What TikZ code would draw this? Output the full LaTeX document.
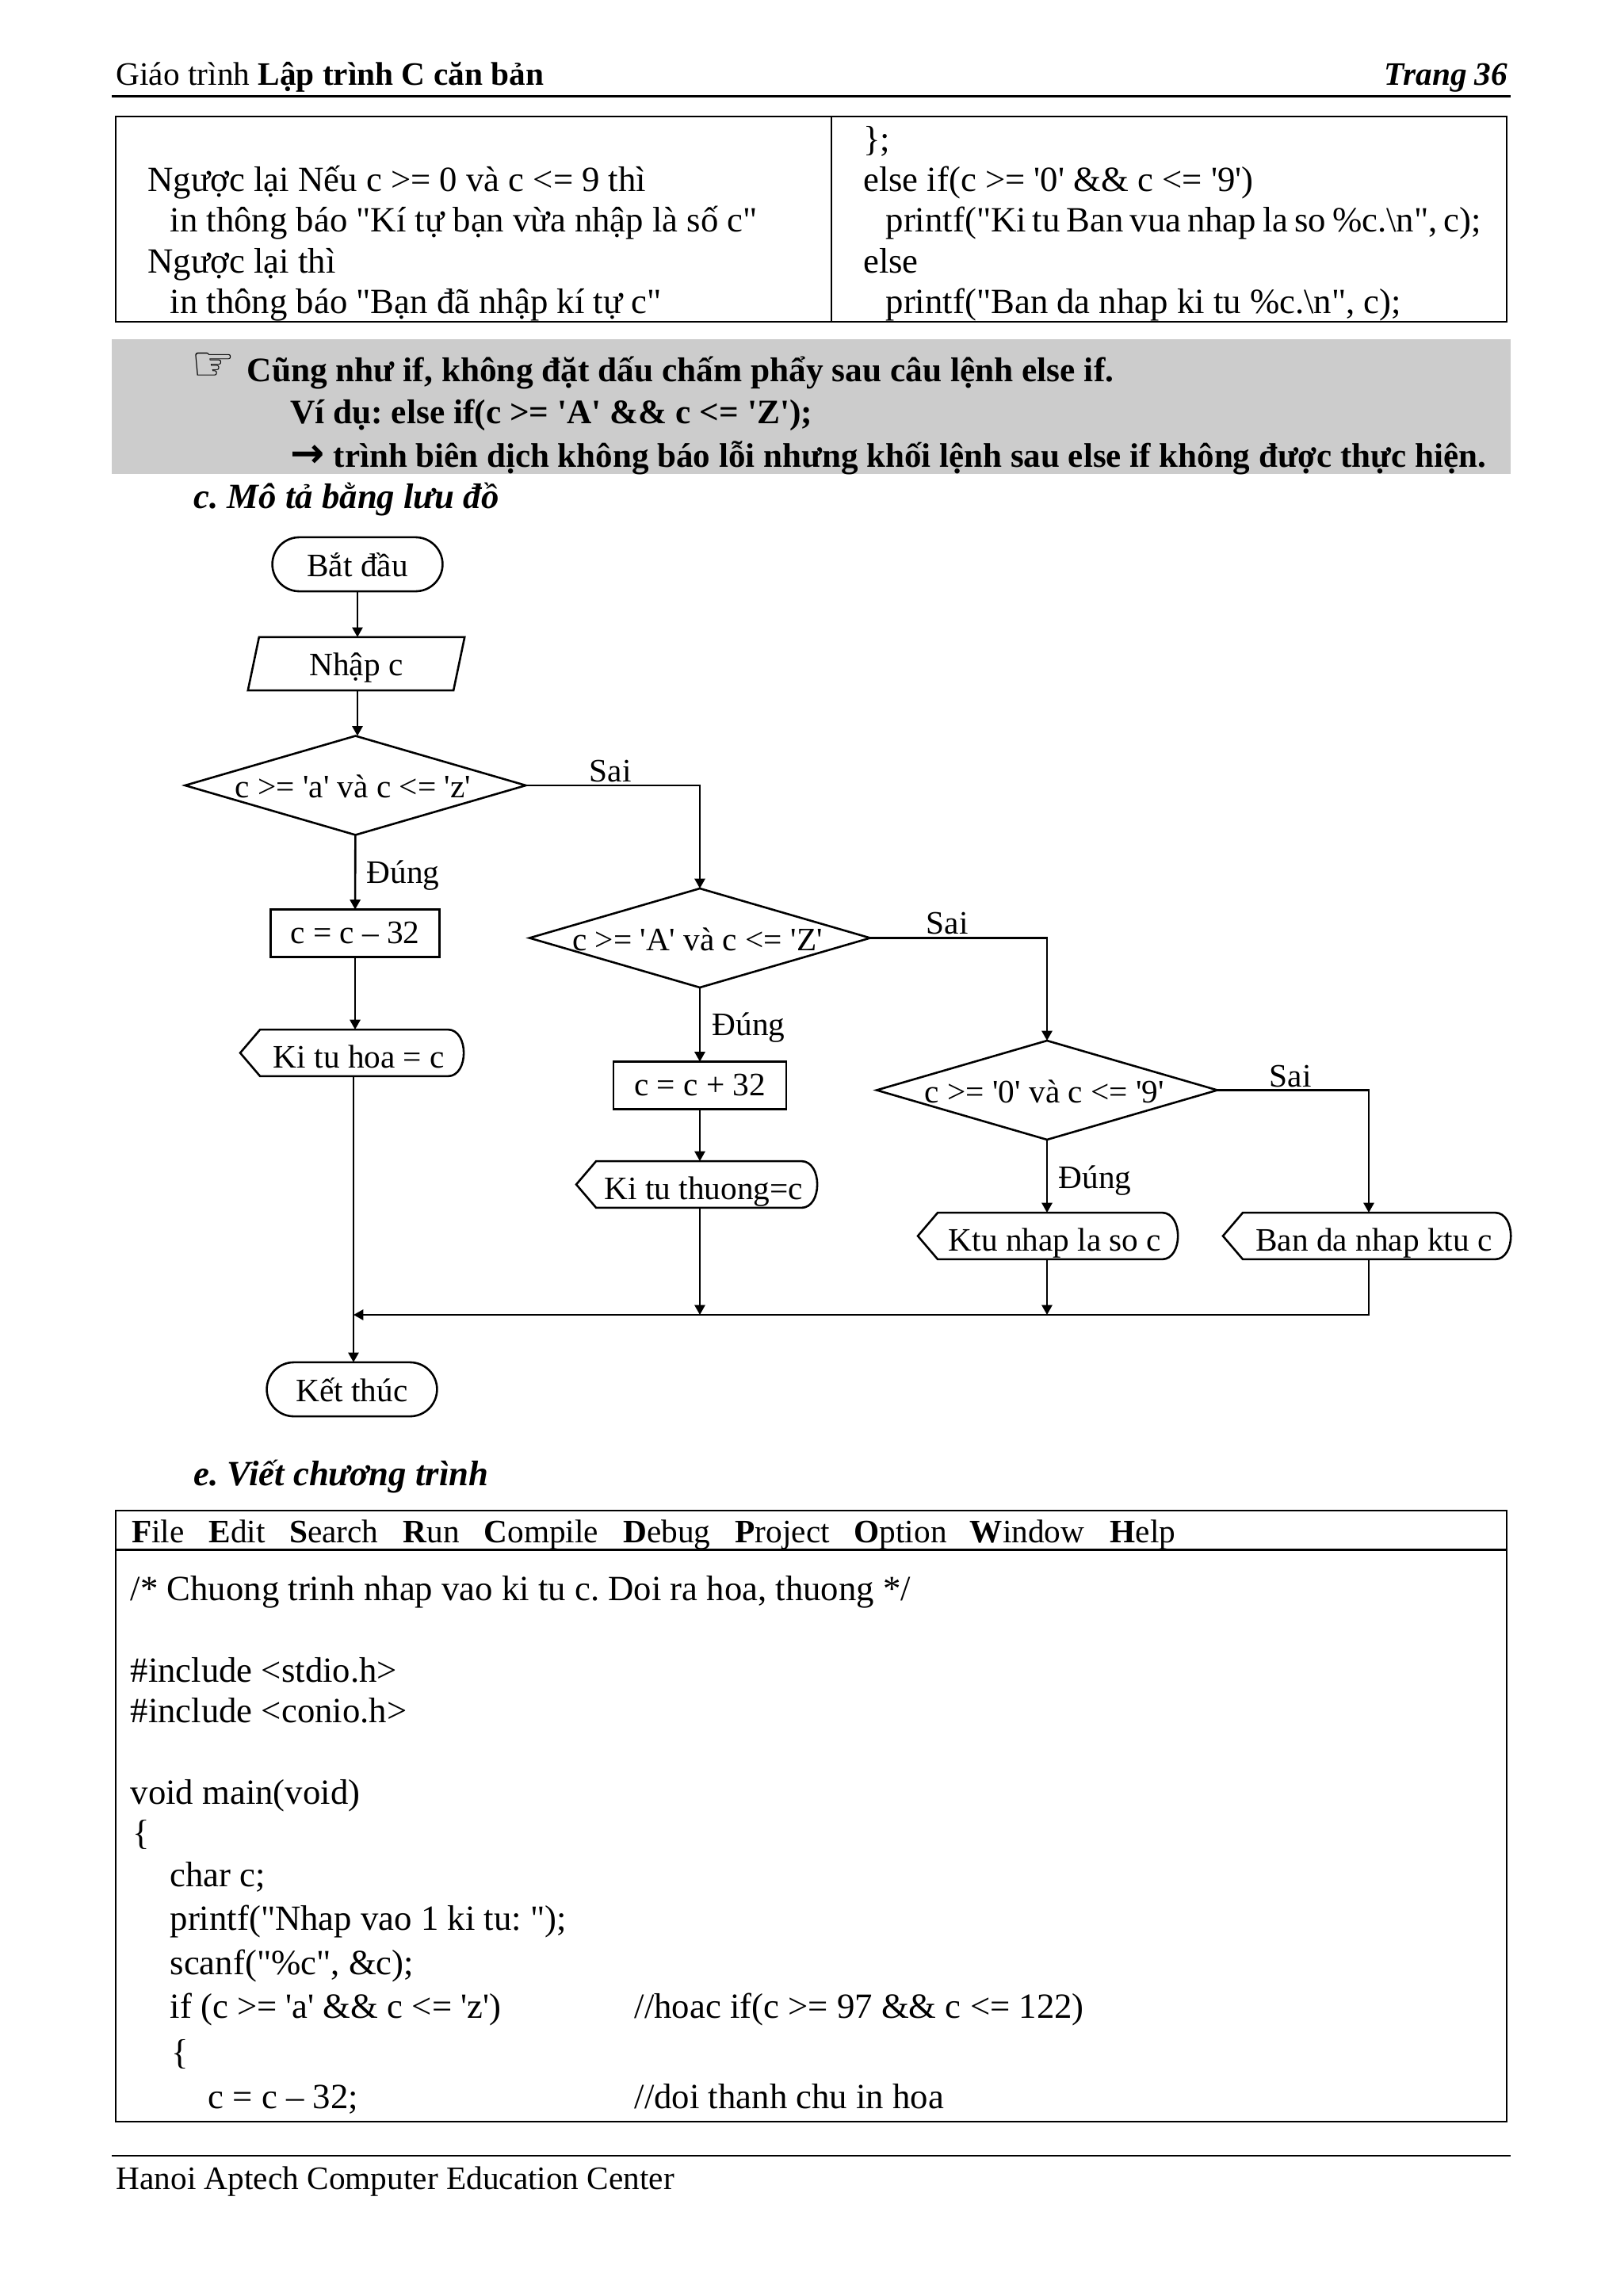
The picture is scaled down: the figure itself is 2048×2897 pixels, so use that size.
\documentclass[tikz,border=0pt]{standalone}
\usepackage{fontspec}
\setmainfont{Liberation Serif}[Ligatures=TeXOff]
\newfontfamily\symfont{DejaVu Sans}
\usetikzlibrary{shapes.geometric,arrows.meta}

\tikzset{
	line/.style={line width=0.75pt},
	arrow/.style={line, -{Triangle[length=3.6pt,width=3.8pt]}},
	flowtext/.style={inner sep=0pt, outer sep=0pt, text height=9.2pt, text depth=0pt, font=\fontsize{12}{14}\selectfont},
	terminal/.style={flowtext, line, draw, rounded corners=9.9pt, minimum width=62.4pt, minimum height=19.8pt},
	inputbox/.style={flowtext, line, draw, text height=8.5pt, trapezium, trapezium stretches=true, trapezium left angle=77, trapezium right angle=103, minimum width=79.6pt, minimum height=19.5pt},
	decision/.style={flowtext, line, draw, diamond, aspect=3.44, inner xsep=-8pt, minimum width=124.9pt, minimum height=36.3pt, execute at begin node={\hspace*{-1.8pt}}},
	calcbox/.style={flowtext, line, draw, text height=7.4pt, minimum height=17.4pt},
	showtext/.style={flowtext, text height=11pt, minimum height=17.1pt},
	flowlabel/.style={anchor=base west, inner sep=0pt, font=\fontsize{12}{14}\selectfont},
	txt/.style={anchor=base west, inner sep=0pt, font=\fontsize{13}{15}\selectfont},
	smalltxt/.style={anchor=base west, inner sep=0pt, font=\fontsize{12}{14}\selectfont},
	notetxt/.style={txt, font=\fontsize{12.6}{15}\selectfont\bfseries},
	titletxt/.style={txt, font=\fontsize{13}{15}\selectfont\bfseries\itshape},
}

\newcommand{\outbox}[4]{
	\node[showtext, minimum width=#3] (#1) at (#2) {\hspace*{5.2pt}#4};
	\draw[line] (#1.west) -- ([xshift=7.3pt]#1.north west) -- ([xshift=-5.8pt]#1.north east)
		.. controls ([xshift=2pt]#1.north east) and ([xshift=2pt]#1.south east) .. ([xshift=-5.8pt]#1.south east)
		-- ([xshift=7.3pt]#1.south west) -- cycle;
}

\begin{document}
\frenchspacing
\begin{tikzpicture}[x=0.29053pt, y=-0.29053pt]
	\useasboundingbox (0,0) rectangle (2048,2897);

	% page head
	\node[smalltxt] (head) at (146,107.5) {Giáo trình \textbf{Lập trình C căn bản}};
	\node[smalltxt, anchor=base east] (page) at (1903,107.5) {\textbf{\textit{Trang 36}}};
	\draw[line] (141,121.5) -- (1906,121.5);

	% table
	\draw[line] (146,147) rectangle (1901,406);
	\draw[line] (1049,147) -- (1049,406);
	\node[txt] (left1) at (186,242) {Ngược lại Nếu c >= 0 và c <= 9 thì};
	\node[txt] (left2) at (214,293) {in thông báo "Kí tự bạn vừa nhập là số c"};
	\node[txt] (left3) at (186,345) {Ngược lại thì};
	\node[txt] (left4) at (214,396) {in thông báo "Bạn đã nhập kí tự c"};
	\node[txt] (right0) at (1088.5,191) {\};};
	\node[txt] (right1) at (1088.5,242) {else if(c >= '0' \&\& c <= '9')};
	\node[txt] (right2) at (1117,293) {\spaceskip=2.3pt printf("Ki tu Ban vua nhap la so \%c.\textbackslash n", c);};
	\node[txt] (right3) at (1088.5,345) {else};
	\node[txt] (right4) at (1117,396) {printf("Ban da nhap ki tu \%c.\textbackslash n", c);};

	% note
	\fill[black!20] (141,428) rectangle (1906,598.5);
	\node[txt, font=\fontsize{18}{18}\selectfont\bfseries\symfont] (hand) at (241,481) {☞};
	\node[notetxt] (note1) at (311,482) {Cũng như if, không đặt dấu chấm phẩy sau câu lệnh else if.};
	\node[notetxt] (note2) at (365.5,534.5) {Ví dụ: else if(c >= 'A' \&\& c <= 'Z');};
	\node[notetxt, font=\fontsize{12.5}{15}\selectfont\bfseries] (note3) at (366,590) {{\symfont\fontsize{15}{15}\selectfont →} trình biên dịch không báo lỗi nhưng khối lệnh sau else if không được thực hiện.};
	\node[titletxt] (title1) at (244,641) {c. Mô tả bằng lưu đồ};

	% flowchart
	\node[terminal] (start) at (451,712) {Bắt đầu};
	\node[inputbox] (input) at (449.5,837.5) {Nhập c};
	\node[decision] (d1) at (448.5,991) {c >= 'a' và c <= 'z'};
	\node[calcbox, minimum width=61.9pt] (calc1) at (448,1177.5) {c = c – 32};
	\outbox{hoa}{444,1328.5}{81.9pt}{Ki tu hoa = c}
	\node[decision] (d2) at (883,1183.5) {c >= 'A' và c <= 'Z'};
	\node[calcbox, minimum width=63.3pt] (calc2) at (883,1369.5) {c = c + 32};
	\outbox{thuong}{879,1494.5}{88.3pt}{Ki tu thuong=c}
	\node[decision] (d3) at (1321,1375.5) {c >= '0' và c <= '9'};
	\outbox{ktu}{1322,1559.5}{95.3pt}{Ktu nhap la so c}
	\outbox{ban}{1724.5,1559.5}{105.5pt}{Ban da nhap ktu c}
	\node[terminal] (stop) at (444,1753) {Kết thúc};

	\node[flowlabel] (sai1) at (743,986) {Sai};
	\node[flowlabel] (sai2) at (1168,1178.5) {Sai};
	\node[flowlabel] (sai3) at (1601,1371) {Sai};
	\node[flowlabel] (dung1) at (462,1114) {Đúng};
	\node[flowlabel] (dung2) at (898,1306.5) {Đúng};
	\node[flowlabel] (dung3) at (1335,1499) {Đúng};

	\coordinate (join) at (446,1659);
	\coordinate (busend) at (1727,1659);

	\draw[arrow] (start) -- (start |- input.north);
	\draw[arrow] (start |- input.south) -- (start |- d1.north);
	\draw[arrow] (d1) -- (calc1);
	\draw[arrow] (calc1) -- (calc1 |- hoa.north);
	\draw[arrow] (d1.east) -| (d2.north);
	\draw[arrow] (d2) -- (calc2);
	\draw[arrow] (calc2) -- (calc2 |- thuong.north);
	\draw[arrow] (d2.east) -| (d3.north);
	\draw[arrow] (d3.south) -- (d3 |- ktu.north);
	\draw[arrow] (d3.east) -| (busend |- ban.north);
	\draw[arrow] (join |- hoa.south) -- (join |- stop.north);
	\draw[arrow] (calc2 |- thuong.south) -- (calc2 |- join);
	\draw[arrow] (d3 |- ktu.south) -- (d3 |- join);
	\draw[arrow] (busend |- ban.south) -- (busend) -- (join);

	\node[titletxt] (title2) at (244,1874) {e. Viết chương trình};

	% program window
	\draw[line] (146,1906) rectangle (1901,2677);
	\draw[line] (146,1955.5) -- (1901,1955.5);
	\foreach \mname/\mx/\mfirst/\mrest in {file/165.5/F/ile, edit/263/E/dit, search/364.5/S/earch, run/508/R/un, compile/610/C/ompile, debug/785.5/D/ebug, project/927/P/roject, option/1077/O/ption, window/1223/W/indow, help/1400/H/elp}
		\node[smalltxt] (\mname) at (\mx,1946) {\textbf{\mfirst}\mrest};

	\node[txt] (code1) at (164,2019) {/* Chuong trinh nhap vao ki tu c. Doi ra hoa, thuong */};
	\node[txt] (code2) at (164,2122) {\#include <stdio.h>};
	\node[txt] (code3) at (164,2173) {\#include <conio.h>};
	\node[txt] (code4) at (164,2276) {void main(void)};
	\node[txt] (code5) at (167,2327) {\{};
	\node[txt] (code6) at (214,2380) {char c;};
	\node[txt] (code7) at (214,2435) {printf("Nhap vao 1 ki tu: ");};
	\node[txt] (code8) at (214,2491) {scanf("\%c", \&c);};
	\node[txt] (code9) at (214,2546) {if (c >= 'a' \&\& c <= 'z')};
	\node[txt] (code10) at (216,2604) {\{};
	\node[txt] (code11) at (262,2660) {c = c – 32;};
	\node[txt] (rem1) at (800,2546) {//hoac if(c >= 97 \&\& c <= 122)};
	\node[txt] (rem2) at (800,2660) {//doi thanh chu in hoa};

	% page foot
	\draw[line] (141,2720) -- (1906,2720);
	\node[smalltxt] (foot) at (146,2762) {Hanoi Aptech Computer Education Center};
\end{tikzpicture}
\end{document}
